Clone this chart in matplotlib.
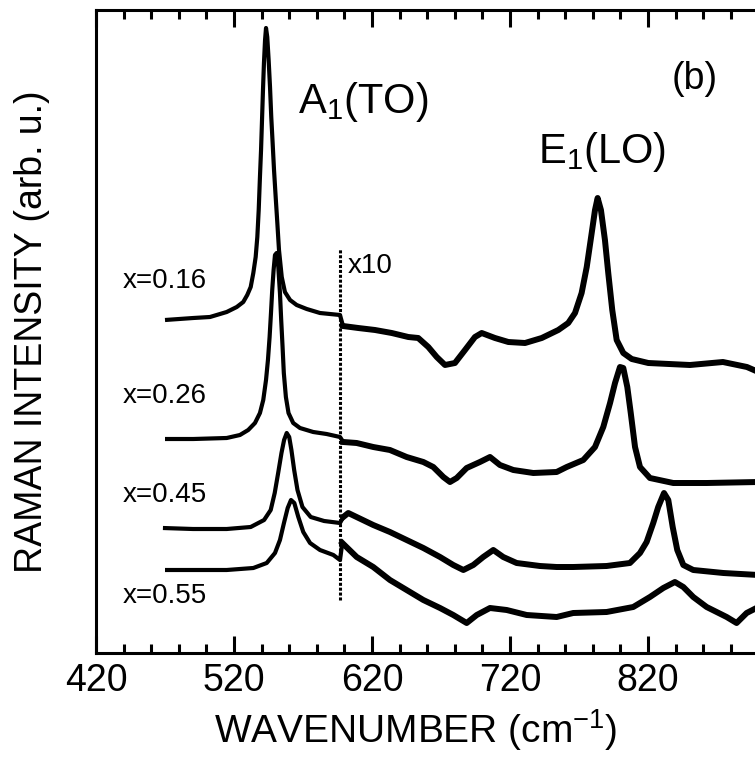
import numpy as np
import matplotlib
matplotlib.use("Agg")
import matplotlib.pyplot as plt

plt.rcParams['font.family'] = ['Liberation Sans', 'DejaVu Sans']
plt.rcParams['mathtext.fontset'] = 'custom'
plt.rcParams['mathtext.rm'] = 'Liberation Sans'
plt.rcParams['mathtext.it'] = 'Liberation Sans'
plt.rcParams['mathtext.bf'] = 'Liberation Sans:bold'

# Raman spectra: wavenumber (cm^-1), intensity (arb. u., offset)
# everything right of SCALE_CUT is shown magnified x10
SCALE_CUT = 597
CUT_Y = [53, 405]

wn_016 = [470, 490.5, 502.6, 514.7, 522, 526.7, 529.6, 532.1, 534, 535.7, 536.9, 537.9, 538.8,
          539.6, 540.3, 541, 541.7, 542.5, 543.2, 544.1, 545.1, 546.1, 547, 548, 549, 550.2,
          551.4, 552.6, 554.6, 556.9, 560.6, 565.4, 572.7, 582.3, 596.8,
          599, 610, 622.2, 634.3, 646.3, 653.5, 660.8, 666.9, 672.9, 680.1, 687.4, 694.6, 699.5,
          709.1, 718.8, 730.9, 743, 755, 762.2, 767.1, 771.9, 775.6, 779.2, 781.6, 783.5, 785.9,
          788.8, 791.2, 794.1, 797.3, 802.1, 808.2, 820.2, 850.4, 874.3, 891.7, 900]
int_016 = [333, 335, 336, 341, 346, 351, 358, 366, 380, 396, 416, 443, 476,
           503, 533, 563, 590, 613, 625, 616, 593, 566, 536, 510, 483, 456,
           430, 403, 376, 361, 353, 348, 344, 340, 338,
           327, 325, 323, 320, 316, 315, 306, 296, 288, 290, 303, 316, 320,
           315, 311, 310, 315, 323, 330, 340, 360, 386, 420, 443, 455, 443,
           413, 380, 343, 313, 300, 294, 290, 288, 291, 286, 281]

wn_026 = [470, 490.5, 514.7, 524.3, 530.3, 535.2, 538.8, 541.2, 543.2, 544.6, 545.8, 546.8,
          547.7, 548.7, 549.7, 550.9, 552.1, 553.3, 554.2, 555.2, 556.1, 557.6, 559.5, 562.9,
          567.8, 577.4, 587.1, 596.8,
          599.2, 608.9, 620.9, 633, 645.1, 657.2, 664.4, 671.7, 676.5, 681.4, 688.6, 698.2,
          705.5, 712.7, 722.4, 736.9, 753.8, 761.1, 773.1, 781.6, 787.6, 792.5, 796.1, 799.7,
          802.1, 805, 807.5, 810.6, 814.2, 821.4, 838.3, 862.5, 900]
int_026 = [214, 214, 215, 218, 223, 230, 240, 253, 273, 293, 316, 340,
           363, 383, 398, 400, 386, 360, 333, 306, 280, 256, 240, 230,
           225, 221, 219, 216,
           211, 210, 206, 203, 196, 191, 186, 176, 171, 175, 185, 191,
           196, 188, 183, 180, 181, 186, 193, 206, 226, 250, 270, 286,
           285, 266, 240, 206, 186, 175, 170, 170, 171]

wn_045 = [468.5, 490.3, 514.7, 532.1, 541.8, 546.6, 549.5, 552, 554.4, 556.3, 558.2, 560,
          561.6, 563.6, 566, 569.6, 575.6, 585.3, 596.8,
          599.2, 602.8, 620.9, 633, 645.1, 657.2, 669.3, 678.9, 686.2, 693.4, 700.6, 707.9,
          715.1, 724.8, 741.7, 753.8, 765.8, 790, 806.9, 814.2, 819, 823.8, 827.4, 831.6,
          834.7, 837.9, 841.2, 845.6, 852.8, 874.6, 900]
int_045 = [125, 124, 124, 126, 133, 143, 160, 180, 200, 213, 220, 216,
           203, 183, 163, 146, 136, 132, 130,
           136, 140, 128, 121, 113, 105, 96, 88, 83, 88, 96, 103,
           96, 90, 87, 86, 86, 87, 90, 100, 111, 130, 146, 160,
           153, 126, 103, 88, 83, 80, 78]

wn_055 = [470, 490.5, 514.7, 534, 543.7, 549.7, 553.3, 556.2, 558.9, 561.3, 563.7, 566.6,
          570.2, 575.1, 582.3, 592, 596.8,
          598.5, 608.9, 620.9, 633, 645.1, 657.2, 669.3, 678.9, 688.6, 695.9, 705.5, 717.6,
          732.1, 753.8, 765.8, 790, 809.3, 821.4, 831.1, 839.5, 845.6, 852.8, 862.5, 877,
          884.2, 891.5, 900]
int_055 = [83, 83, 83, 85, 90, 100, 113, 130, 145, 153, 150, 136,
           121, 110, 103, 98, 93,
           110, 96, 86, 73, 63, 53, 45, 38, 30, 38, 45, 43,
           38, 36, 40, 41, 46, 56, 65, 71, 66, 56, 46, 36,
           30, 40, 46]

sample_labels = ['x=0.16', 'x=0.26', 'x=0.45', 'x=0.55']
sample_label_y = [365, 250, 151, 50]

xticks = np.arange(420, 901, 100)
xticks_minor = np.arange(420, 921, 20)

fig = plt.figure(figsize=(7.55, 7.6), dpi=100)
# axes run past the right edge of the picture, like the cropped original
ax = fig.add_axes([96 / 755, 107 / 760, 690 / 755, 643 / 760])

for wn, inten in [(wn_016, int_016), (wn_026, int_026), (wn_045, int_045), (wn_055, int_055)]:
    wn = np.array(wn)
    inten = np.array(inten)
    ax.plot(wn, inten, color='k', lw=3.0, solid_joinstyle='round', solid_capstyle='butt')
    hi = wn >= SCALE_CUT
    ax.plot(wn[hi], inten[hi], color='k', lw=4.3, solid_joinstyle='round')

ax.vlines(SCALE_CUT, CUT_Y[0], CUT_Y[1], color='k', lw=2.2, linestyles=(0, (1.0, 0.6)))

for lab, y in zip(sample_labels, sample_label_y):
    ax.text(439.6, y, lab, fontsize=20, va='baseline', ha='left')

ax.text(602.6, 380, 'x10', fontsize=20, va='baseline', ha='left')
ax.text(566.4, 540, r'A$_\mathrm{1}$(TO)', fontsize=30, va='baseline', ha='left')
ax.text(740.3, 490, r'E$_\mathrm{1}$(LO)', fontsize=30, va='baseline', ha='left')
ax.text(837.4, 564, '(b)', fontsize=27, va='baseline', ha='left')

ax.set_xlim(420, 920)
ax.set_ylim(0, 643)
ax.set_xticks(xticks)
ax.set_xticks(xticks_minor, minor=True)
ax.set_yticks([])
ax.tick_params(axis='x', which='both', direction='in', top=True, bottom=True,
               width=2.2, labelsize=27, pad=7)
ax.tick_params(axis='x', which='major', length=12)
ax.tick_params(axis='x', which='minor', length=6.5)
for s in ax.spines.values():
    s.set_linewidth(2.2)

ax.set_xlabel(r'WAVENUMBER (cm$^{-1}$)', fontsize=28, labelpad=6)
ax.xaxis.label.set_x(0.464)
ax.set_ylabel('RAMAN INTENSITY (arb. u.)', fontsize=27, labelpad=33)

fig.savefig('out.png', dpi=100)
